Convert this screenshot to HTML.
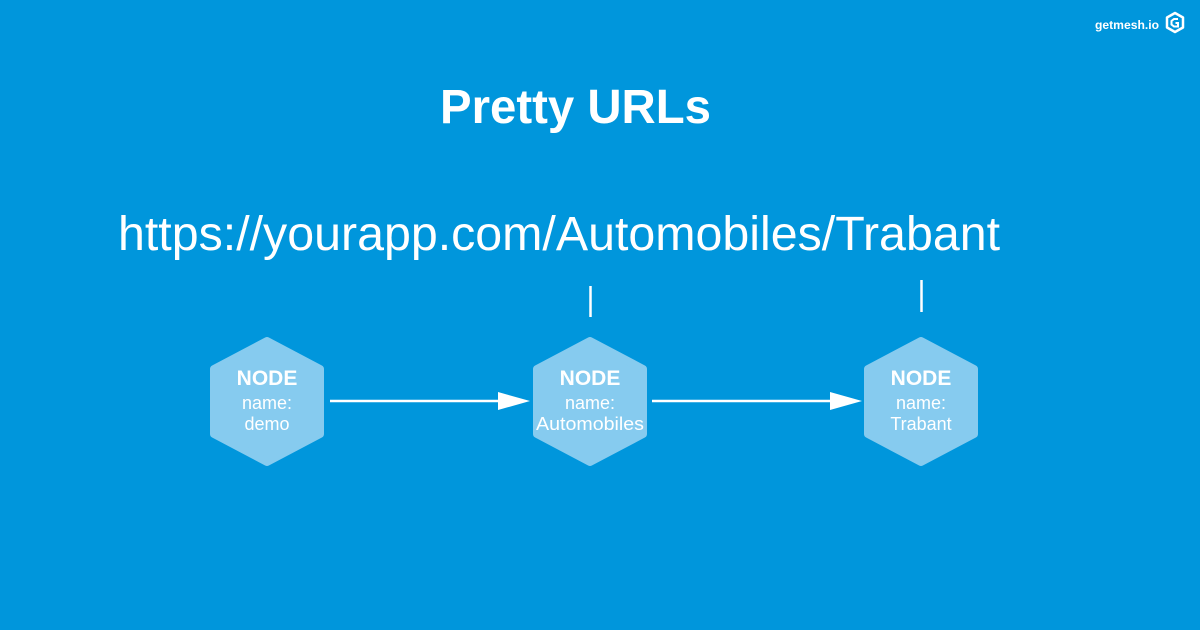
<!DOCTYPE html>
<html><head><style>
html,body{margin:0;padding:0;width:1200px;height:630px;overflow:hidden;background:#0096dc;}
svg{display:block;font-family:"Liberation Sans",sans-serif;}
</style></head><body>
<svg width="1200" height="630" viewBox="0 0 1200 630">
<rect width="1200" height="630" fill="#0096dc"/>
<text x="1095" y="29" fill="#fff" font-size="12" font-weight="bold" textLength="64" lengthAdjust="spacingAndGlyphs">getmesh.io</text>
<path d="M1175 13 L1183 17.5 L1183 27.5 L1175 32 L1167 27.5 L1167 17.5 Z" fill="none" stroke="#fff" stroke-width="2.5" stroke-linejoin="round"/>
<path d="M1178 19 L1174 19 L1171.5 21 L1171.5 24.5 L1174 26.5 L1178 26.5 L1178 23 L1175.5 23" fill="none" stroke="#fff" stroke-width="2"/>
<text x="440" y="123" fill="#fff" font-size="48" font-weight="bold" textLength="271" lengthAdjust="spacingAndGlyphs">Pretty URLs</text>
<text x="118" y="250" fill="#fff" font-size="48" textLength="882" lengthAdjust="spacingAndGlyphs">https://yourapp.com/Automobiles/Trabant</text>
<line x1="590.5" y1="286" x2="590.5" y2="317" stroke="#fff" stroke-width="2.5"/>
<line x1="921.5" y1="280" x2="921.5" y2="312" stroke="#fff" stroke-width="2.5"/>
<g fill="#86cbef" stroke="#86cbef" stroke-width="8" stroke-linejoin="round">
<path d="M267 341 L320 369 L320 434 L267 462 L214 434 L214 369 Z"/>
<path d="M590 341 L643 369 L643 434 L590 462 L537 434 L537 369 Z"/>
<path d="M921 341 L974 369 L974 434 L921 462 L868 434 L868 369 Z"/>
</g>
<g stroke="#fff" stroke-width="2.5">
<line x1="330" y1="401" x2="502" y2="401"/>
<line x1="652" y1="401" x2="834" y2="401"/>
</g>
<g fill="#fff">
<path d="M498 392 L530 401 L498 410 Z"/>
<path d="M830 392 L862 401 L830 410 Z"/>
</g>
<g fill="#fff" text-anchor="middle">
<text x="267" y="385" font-size="21" font-weight="bold">NODE</text>
<text x="267" y="409" font-size="18">name:</text>
<text x="267" y="430" font-size="18">demo</text>
<text x="590" y="385" font-size="21" font-weight="bold">NODE</text>
<text x="590" y="409" font-size="18">name:</text>
<text x="590" y="430" font-size="18" textLength="108" lengthAdjust="spacingAndGlyphs">Automobiles</text>
<text x="921" y="385" font-size="21" font-weight="bold">NODE</text>
<text x="921" y="409" font-size="18">name:</text>
<text x="921" y="430" font-size="18">Trabant</text>
</g>
</svg>
</body></html>
